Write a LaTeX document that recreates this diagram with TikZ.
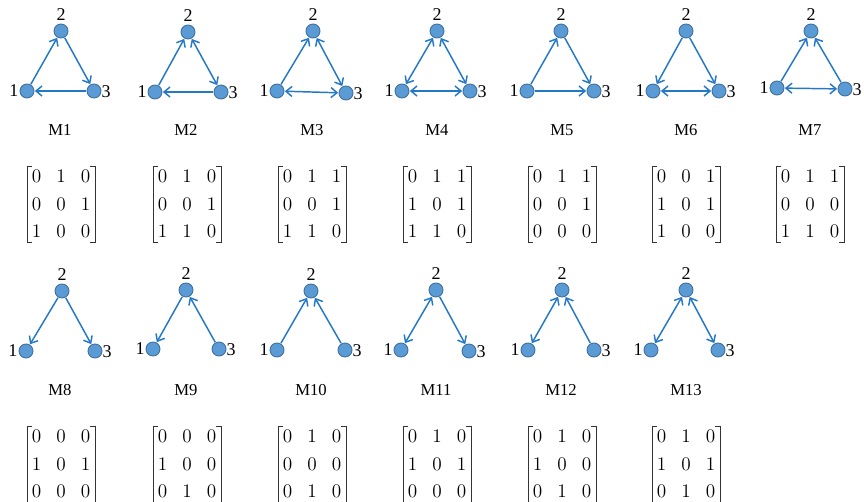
\documentclass[tikz,border=0pt]{standalone}
\usepackage[no-math]{fontspec}
\setmainfont{Liberation Serif}
\usetikzlibrary{arrows.meta,calc}
\definecolor{vfill}{RGB}{91,155,213}
\definecolor{vdraw}{RGB}{65,113,156}
\definecolor{ecol}{RGB}{36,120,200}
\tikzset{
  vtx/.style={circle,fill=vfill,draw=vdraw,line width=0.7pt,minimum size=10.5pt,inner sep=0pt},
  lab/.style={font=\fontsize{13.5}{14}\selectfont,inner sep=0pt},
  mlab/.style={font=\fontsize{12.5}{14}\selectfont,inner sep=0pt},
  digit/.style={font=\fontsize{13.5}{14}\selectfont,inner sep=0pt},
  bracket/.style={line width=0.6pt,black!80},
  edge/.style={draw=ecol,line width=1.1pt,shorten <=0.3pt,shorten >=0.3pt},
  one/.style={edge,-{Straight Barb[length=4.5pt,width=7.5pt]}},
  two/.style={edge,{Straight Barb[length=4.5pt,width=7.5pt]}-{Straight Barb[length=4.5pt,width=7.5pt]}}
}
% #1 name, #2-#7 node coords, #8 #9 label position
\newcommand{\motif}[9]{%
  \node[vtx] (#1a) at (#2,#3) {};
  \node[vtx] (#1b) at (#4,#5) {};
  \node[vtx] (#1c) at (#6,#7) {};
  \node[lab] (#1la) at ({#2-13},{#3}) {1};
  \node[lab] (#1lb) at ({#4},{#5-16}) {2};
  \node[lab] (#1lc) at ({#6+12},{#7+1}) {3};
  \node[mlab] (#1name) at (#8,#9) {#1};
}
\newcommand{\admat}[4]{%
  \foreach \d [count=\k from 0] in {#4} {
    \pgfmathtruncatemacro\cc{mod(\k,3)}
    \pgfmathtruncatemacro\rr{div(\k,3)}
    \node[digit] (#1d\k) at ({#2+(\cc-1)*24.5},{#3+(\rr-1)*27.5}) {$\d$};
  }
  \draw[bracket] ({#2-29},{#3-38}) -- ({#2-34},{#3-38}) -- ({#2-34},{#3+38}) -- ({#2-29},{#3+38});
  \draw[bracket] ({#2+29},{#3-38}) -- ({#2+34},{#3-38}) -- ({#2+34},{#3+38}) -- ({#2+29},{#3+38});
}
\begin{document}
\begin{tikzpicture}[x=0.75pt,y=-0.75pt]
\useasboundingbox (0,0) rectangle (864,501);
\clip (0,0) rectangle (864,501);
% row 1
\motif{M1}{27}{91}{61}{31}{94}{91}{60}{130}
\draw[one] (M1a) -- (M1b); \draw[one] (M1b) -- (M1c); \draw[one] (M1c) -- (M1a);
\motif{M2}{155}{92}{188}{32}{221}{92}{186}{130}
\draw[one] (M2a) -- (M2b); \draw[two] (M2b) -- (M2c); \draw[one] (M2c) -- (M2a);
\motif{M3}{277}{91}{313}{31}{346}{93}{312}{130}
\draw[one] (M3a) -- (M3b); \draw[two] (M3b) -- (M3c); \draw[two] (M3a) -- (M3c);
\motif{M4}{402}{91}{437}{31}{470}{91}{437}{130}
\draw[two] (M4a) -- (M4b); \draw[two] (M4b) -- (M4c); \draw[two] (M4a) -- (M4c);
\motif{M5}{527}{91}{561}{31}{594}{91}{562}{130}
\draw[one] (M5a) -- (M5b); \draw[one] (M5b) -- (M5c); \draw[one] (M5a) -- (M5c);
\motif{M6}{653}{91}{686}{31}{719}{91}{686}{130}
\draw[one] (M6b) -- (M6a); \draw[one] (M6b) -- (M6c); \draw[two] (M6a) -- (M6c);
\motif{M7}{777}{88}{811}{31}{845}{89}{810}{130}
\draw[one] (M7a) -- (M7b); \draw[one] (M7c) -- (M7b); \draw[two] (M7a) -- (M7c);
% row 2
\motif{M8}{26}{351}{62}{291}{95}{351}{60}{390}
\draw[one] (M8b) -- (M8a); \draw[one] (M8b) -- (M8c);
\motif{M9}{153}{349}{186}{290}{219}{349}{186}{390}
\draw[one] (M9b) -- (M9a); \draw[one] (M9c) -- (M9b);
\motif{M10}{277}{350}{311}{291}{345}{350}{311}{390}
\draw[one] (M10a) -- (M10b); \draw[one] (M10c) -- (M10b);
\motif{M11}{401}{350}{436}{290}{469}{351}{436}{390}
\draw[two] (M11a) -- (M11b); \draw[one] (M11b) -- (M11c);
\motif{M12}{528}{350}{562}{290}{594}{350}{561}{390}
\draw[two] (M12a) -- (M12b); \draw[one] (M12c) -- (M12b);
\motif{M13}{651}{350}{686}{290}{718}{350}{686}{390}
\draw[two] (M13a) -- (M13b); \draw[two] (M13b) -- (M13c);
% matrices row 1
\admat{A1}{61}{204}{0,1,0,0,0,1,1,0,0}
\admat{A2}{187}{204}{0,1,0,0,0,1,1,1,0}
\admat{A3}{312}{204}{0,1,1,0,0,1,1,1,0}
\admat{A4}{437}{204}{0,1,1,1,0,1,1,1,0}
\admat{A5}{562}{204}{0,1,1,0,0,1,0,0,0}
\admat{A6}{686}{204}{0,0,1,1,0,1,1,0,0}
\admat{A7}{810}{204}{0,1,1,0,0,0,1,1,0}
% matrices row 2
\admat{A8}{61}{464}{0,0,0,1,0,1,0,0,0}
\admat{A9}{187}{464}{0,0,0,1,0,0,0,1,0}
\admat{A10}{312}{464}{0,1,0,0,0,0,0,1,0}
\admat{A11}{437}{464}{0,1,0,1,0,1,0,0,0}
\admat{A12}{562}{464}{0,1,0,1,0,0,0,1,0}
\admat{A13}{686}{464}{0,1,0,1,0,1,0,1,0}
\end{tikzpicture}
\end{document}
